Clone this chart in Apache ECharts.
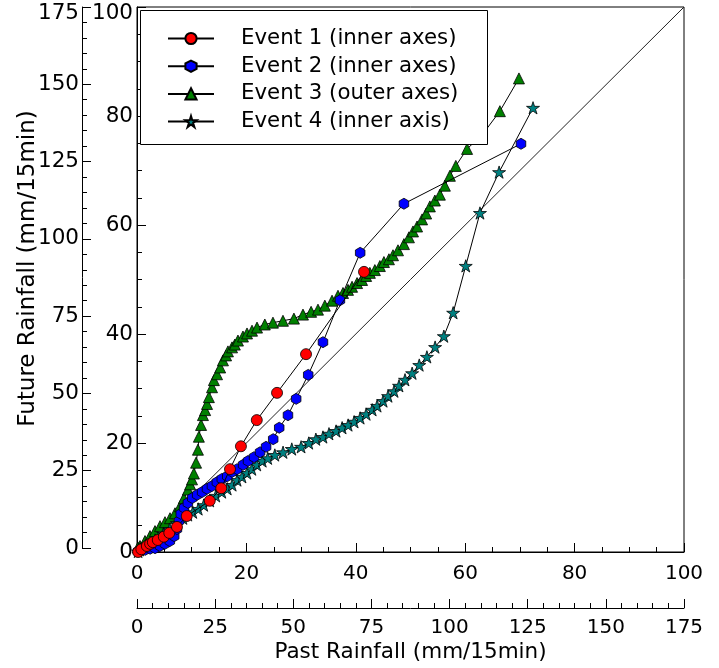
<!DOCTYPE html>
<html>
<head>
<meta charset="utf-8">
<script src="https://cdn.jsdelivr.net/npm/echarts@6/dist/echarts.min.js"></script>
<style>
html,body{margin:0;padding:0;background:#fff;}
#c{width:719px;height:668px;}
</style>
</head>
<body>
<div id="c"></div>
<script>
// ---- Data ----
var seriesNames = ['Event 1 (inner axes)', 'Event 2 (inner axes)', 'Event 3 (outer axes)', 'Event 4 (inner axis)'];

// Event 1: inner axes (0-100)
var event1 = [[0.2,0],[0.8,0.5],[1.8,1.1],[2.4,1.5],[2.9,1.8],[3.8,2.2],[4.9,2.8],[5.9,3.5],[7.3,4.6],[9.1,6.6],[13.3,9.4],[15.4,11.7],[17.0,15.2],[19.0,19.4],[21.9,24.2],[25.6,29.2],[30.9,36.3],[41.5,51.4]];

// Event 2: inner axes (0-100)
var event2 = [[0.2,0.1],[0.5,0.2],[1.5,0.4],[2.4,0.6],[3.3,0.7],[4.2,1.1],[5.1,1.5],[6.0,2.0],[6.8,2.9],[7.3,4.2],[7.7,5.7],[8.0,7.0],[8.6,8.1],[9.3,9.0],[10.1,9.9],[11.0,10.5],[11.9,11.0],[12.8,11.6],[13.7,12.1],[14.6,12.8],[15.5,13.4],[16.5,13.9],[17.4,14.7],[18.3,15.2],[19.4,16.0],[20.3,16.7],[21.4,17.4],[22.5,18.3],[23.6,19.3],[24.9,20.7],[26.0,22.8],[27.6,25.1],[29.1,28.1],[31.3,32.5],[34.0,38.5],[37.1,46.2],[40.8,54.9],[48.8,63.9],[70.2,74.9]];

// Event 3: outer axes (0-175)
var event3 = [[0.3,0.2],[0.96,0.64],[2.56,2.25],[4.16,3.85],[5.76,5.46],[7.36,7.06],[8.96,8.35],[10.56,9.63],[12.16,11.24],[13.76,13.49],[15.0,16.1],[16.3,18.9],[17.0,20.6],[17.6,22.2],[18.2,24.1],[18.9,27.6],[19.5,31.8],[19.8,36.0],[20.5,39.8],[21.1,43.0],[21.8,44.6],[22.4,46.6],[23.0,48.8],[24.0,52.0],[24.6,54.3],[25.6,56.2],[26.6,58.4],[27.5,60.7],[28.5,62.3],[29.1,63.6],[30.4,64.9],[31.3,65.8],[32.3,67.1],[33.9,68.4],[35.2,69.4],[36.8,70.3],[38.4,71.3],[40.9,72.3],[43.5,72.9],[46.7,73.5],[50.2,74.2],[53.1,75.5],[55.7,76.4],[57.9,77.1],[60.1,78.4],[62.4,80.0],[64.3,81.6],[65.9,82.5],[67.5,83.5],[68.8,84.5],[70.4,85.7],[72.0,86.7],[73.3,88.0],[74.5,89.0],[76.1,89.9],[77.7,91.2],[79.0,92.5],[80.6,93.4],[81.9,94.7],[83.5,96.3],[85.4,98.3],[87.0,100.5],[88.3,102.4],[89.6,104.0],[91.2,106.3],[92.5,108.2],[93.7,110.5],[95.3,112.4],[96.9,114.3],[98.5,117.2],[100.1,120.4],[102.0,123.6],[105.6,129.1],[110.4,133.6],[116.1,141.3],[122.2,151.9]];

// Event 4: inner axes (0-100)
var event4 = [[0.2,0.1],[0.5,0.4],[1.8,1.3],[3.3,2.2],[4.8,3.3],[6.0,4.2],[7.3,5.3],[8.4,6.2],[9.3,6.8],[10.2,7.3],[11.2,7.9],[12.2,8.6],[13.3,9.4],[14.4,10.3],[15.5,11.0],[16.5,11.6],[17.4,12.3],[18.3,13.2],[19.2,13.8],[20.1,14.5],[21.0,15.2],[21.9,16.0],[22.9,16.7],[23.9,17.2],[25.2,17.8],[26.7,18.3],[28.3,18.9],[30.0,19.3],[31.4,20.0],[32.7,20.7],[34.0,21.1],[35.1,21.7],[36.4,22.2],[37.5,22.8],[38.6,23.3],[39.7,23.9],[40.8,24.6],[41.9,25.3],[43.0,26.1],[43.9,26.8],[45.0,27.7],[45.9,28.6],[47.0,29.5],[47.9,30.5],[49.0,31.6],[50.3,32.8],[51.6,34.3],[53.0,35.8],[54.5,37.6],[56.1,39.6],[57.8,43.9],[60.1,52.5],[62.7,62.2],[66.2,69.7],[72.4,81.5]];

// 1:1 reference line on inner axes
var diagonal = [[0,0],[100,100]];

// Axis ranges / tick steps
var innerMax = 100, innerStep = 20;
var outerMax = 175, outerStep = 25;
var xTitle = 'Past Rainfall (mm/15min)';
var yTitle = 'Future Rainfall (mm/15min)';

// ---- Chart ----
var FONT = 'DejaVu Sans';
var chart = echarts.init(document.getElementById('c'), null, {renderer: 'canvas'});

var starPath = 'path://M0,-10 L2.2,-3.1 L9.51,-3.09 L3.6,1.2 L5.88,8.09 L0,3.8 L-5.88,8.09 L-3.6,1.2 L-9.51,-3.09 L-2.2,-3.1 Z';
var hexPath = 'path://M0,-10 L8.66,-5 L8.66,5 L0,10 L-8.66,5 L-8.66,-5 Z';

function axisCommon(fontSize) {
  return {
    axisLine: {show: true, onZero: false, lineStyle: {color: '#000', width: 1}},
    axisTick: {show: true, inside: true, length: 9, lineStyle: {color: '#000', width: 1}},
    minorTick: {show: true, splitNumber: 4, length: 5, lineStyle: {color: '#000', width: 1}},
    splitLine: {show: false},
    axisLabel: {color: '#000', fontFamily: FONT, fontSize: fontSize}
  };
}

function topLabel(fs, maxV) {
  return {
    formatter: function (v) { return v === maxV ? '{t|' + v + '}' : String(v); },
    rich: {t: {fontFamily: FONT, fontSize: fs, color: '#000', padding: [12, 0, 0, 0]}}
  };
}

var xInner = Object.assign(axisCommon(20), {
  type: 'value', gridIndex: 0, min: 0, max: innerMax, interval: innerStep, position: 'bottom'
});
xInner.axisLabel.margin = 12;

var xOuter = Object.assign(axisCommon(20), {
  type: 'value', gridIndex: 1, min: 0, max: outerMax, interval: outerStep, position: 'bottom', offset: 60,
  name: xTitle, nameLocation: 'middle', nameGap: 33, nameMoveOverlap: false,
  nameTextStyle: {color: '#000', fontFamily: FONT, fontSize: 21.5}
});
xOuter.minorTick.splitNumber = 5;
xOuter.axisLabel.margin = 10;

var yInner = Object.assign(axisCommon(21.5), {
  type: 'value', gridIndex: 0, min: 0, max: innerMax, interval: innerStep, position: 'left'
});
Object.assign(yInner.axisLabel, topLabel(21.5, innerMax), {margin: 4});

var yOuter = Object.assign(axisCommon(21.5), {
  type: 'value', gridIndex: 1, min: 0, max: outerMax, interval: outerStep, position: 'left', offset: 55,
  name: yTitle, nameLocation: 'middle', nameGap: 42, nameMoveOverlap: false,
  nameTextStyle: {color: '#000', fontFamily: FONT, fontSize: 23, padding: [0, 0, 0, 18]}
});
yOuter.minorTick.splitNumber = 5;
Object.assign(yOuter.axisLabel, topLabel(21.5, outerMax), {margin: 3});

function lineSeries(name, data, color, symbol, size, xi, yi, z) {
  return {
    name: name, type: 'line', data: data, xAxisIndex: xi, yAxisIndex: yi,
    symbol: symbol, symbolSize: size, symbolKeepAspect: true, showAllSymbol: true,
    z: z, animation: false,
    lineStyle: {color: '#000', width: 1},
    itemStyle: {color: color, borderColor: '#000', borderWidth: 0.8}
  };
}

var option = {
  animation: false,
  backgroundColor: '#fff',
  textStyle: {fontFamily: FONT},
  grid: [
    {left: 137, top: 7, width: 547, height: 545, show: true, borderColor: '#000', borderWidth: 1, backgroundColor: 'transparent'},
    {left: 137, top: 7, width: 547, height: 545, show: false}
  ],
  xAxis: [xInner, xOuter],
  yAxis: [yInner, yOuter],
  graphic: [{
    type: 'rect', left: 140, top: 10, z: 5,
    shape: {width: 347, height: 134},
    style: {fill: '#fff', stroke: '#000', lineWidth: 1}
  }],
  legend: {
    data: seriesNames,
    orient: 'vertical', left: 140, top: 10, z: 10,
    padding: [18, 10, 17, 27],
    itemWidth: 46, itemHeight: 14, itemGap: 6.7,
    textStyle: {color: '#000', fontFamily: FONT, fontSize: 21.3, lineHeight: 20, padding: [0, 0, 0, 22]},
    selectedMode: false
  },
  series: [
    {type: 'line', data: diagonal, xAxisIndex: 0, yAxisIndex: 0, symbol: 'none', silent: true, z: 1,
     lineStyle: {color: '#222', width: 1}},
    lineSeries(seriesNames[2], event3, '#008000', 'triangle', 11, 1, 1, 2),
    lineSeries(seriesNames[3], event4, '#008080', starPath, 13, 0, 0, 3),
    lineSeries(seriesNames[1], event2, '#0000ff', hexPath, 11, 0, 0, 4),
    lineSeries(seriesNames[0], event1, '#ff0000', 'circle', 11, 0, 0, 5)
  ]
};
chart.setOption(option);
</script>
</body>
</html>
